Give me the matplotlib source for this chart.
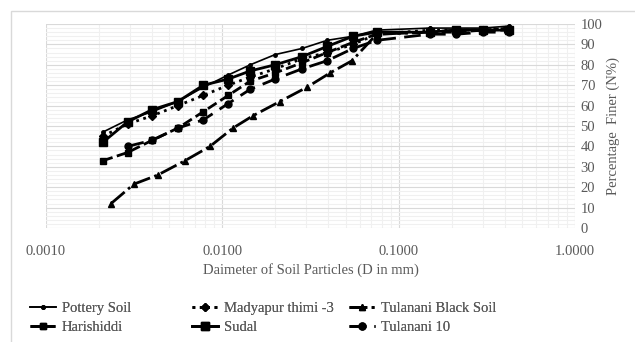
import numpy as np
import matplotlib
matplotlib.use('Agg')
import matplotlib.pyplot as plt
from matplotlib.ticker import FixedLocator, FuncFormatter, MultipleLocator
from matplotlib.patches import Rectangle

plt.rcParams['font.family'] = ['Liberation Serif', 'DejaVu Serif']

# particle sizes (mm)
d_main = [0.0021, 0.0029, 0.0040, 0.0056, 0.0078, 0.0108, 0.0144, 0.0199, 0.0283,
          0.0393, 0.0551, 0.075, 0.15, 0.212, 0.3, 0.425]
d_black = [0.00234, 0.00315, 0.00431, 0.00614, 0.00851, 0.0115, 0.0149, 0.0212,
           0.0302, 0.0408, 0.0544, 0.075, 0.15, 0.212, 0.3, 0.425]
d_t10 = d_main[1:]

# percentage finer
pottery = [47, 53, 57, 62, 69, 75, 80, 85, 88, 92, 94, 97, 98, 98, 98, 99]
madyapur = [45, 51, 55, 60, 65, 70, 74, 78, 83, 86, 90, 95, 97, 97, 97, 98]
black_soil = [12, 21.5, 26, 33, 40, 49, 55, 62, 69, 76, 82, 95, 96, 97, 97, 98]
harishiddi = [33, 37, 43, 49, 57, 65, 72, 76, 81, 86, 91, 95, 96, 96, 97, 97]
sudal = [42, 52, 58, 62, 70, 73, 77, 80, 84, 89, 94, 96, 96, 97, 97, 97]
tulanani10 = [40, 43, 49, 53, 61, 68, 73, 78, 82, 88, 92, 95, 95, 96, 96]

fig = plt.figure(figsize=(6.35, 3.42), dpi=100)
fig.patches.append(Rectangle((11 / 635, -0.1), 0.99, 1 - 11 / 342 + 0.1,
                             transform=fig.transFigure, fill=False,
                             edgecolor='#d9d9d9', lw=1))
ax = fig.add_axes([46 / 635, 1 - 228 / 342, (575 - 46) / 635, (228 - 24) / 342])

l1, = ax.plot(d_main, pottery, '-', color='black', lw=1.2, marker='.', ms=5, label='Pottery Soil')
l2, = ax.plot(d_main, madyapur, ':', color='black', lw=2, marker='D', ms=4, label='Madyapur thimi -3')
l3, = ax.plot(d_black, black_soil, '-.', color='black', lw=2, marker='^', ms=5, label='Tulanani Black Soil')
l4, = ax.plot(d_main, harishiddi, '--', color='black', lw=2, marker='s', ms=5, label='Harishiddi')
l5, = ax.plot(d_main, sudal, '-', color='black', lw=2, marker='s', ms=6, label='Sudal')
l6, = ax.plot(d_t10, tulanani10, color='black', lw=2, ls=(0, (6, 3)), marker='o', ms=5, label='Tulanani 10')

ax.set_xscale('log')
ax.set_xlim(0.001, 1.0)
ax.set_ylim(0, 100)
ax.xaxis.set_major_locator(FixedLocator([0.001, 0.01, 0.1, 1.0]))
ax.xaxis.set_major_formatter(FuncFormatter(lambda v, p: f'{v:.4f}'))
ax.yaxis.set_major_locator(MultipleLocator(10))
ax.yaxis.set_minor_locator(MultipleLocator(2))
ax.yaxis.tick_right()
ax.yaxis.set_label_position('right')

ax.grid(which='major', color='#d9d9d9', lw=0.8)
ax.grid(which='minor', color='#f0f0f0', lw=0.8)
ax.set_axisbelow(True)
for s in ax.spines.values():
    s.set_visible(False)
ax.tick_params(which='both', length=0, labelcolor='#595959', labelsize=10.5)
ax.tick_params(axis='x', pad=12)
ax.tick_params(axis='y', pad=4)

ax.set_xlabel('Daimeter of Soil Particles (D in mm)', color='#595959', fontsize=10.5, labelpad=4)
ax.set_ylabel('Percentage  Finer (N%)', color='#595959', fontsize=10.5, labelpad=3)

# legend: three columns, filled row by row
cols = [[l1, l4], [l2, l5], [l3, l6]]
col_x = [24, 186, 343]
for hs, x in zip(cols, col_x):
    leg = fig.legend(hs, [h.get_label() for h in hs], loc='upper left',
                     bbox_to_anchor=(x / 635, 1 - 296 / 342), frameon=False,
                     fontsize=10.5, labelcolor='#595959', handlelength=1.8,
                     handletextpad=0.4, labelspacing=0.4, borderaxespad=0)
    fig.add_artist(leg)

fig.savefig('out.png', dpi=100)
